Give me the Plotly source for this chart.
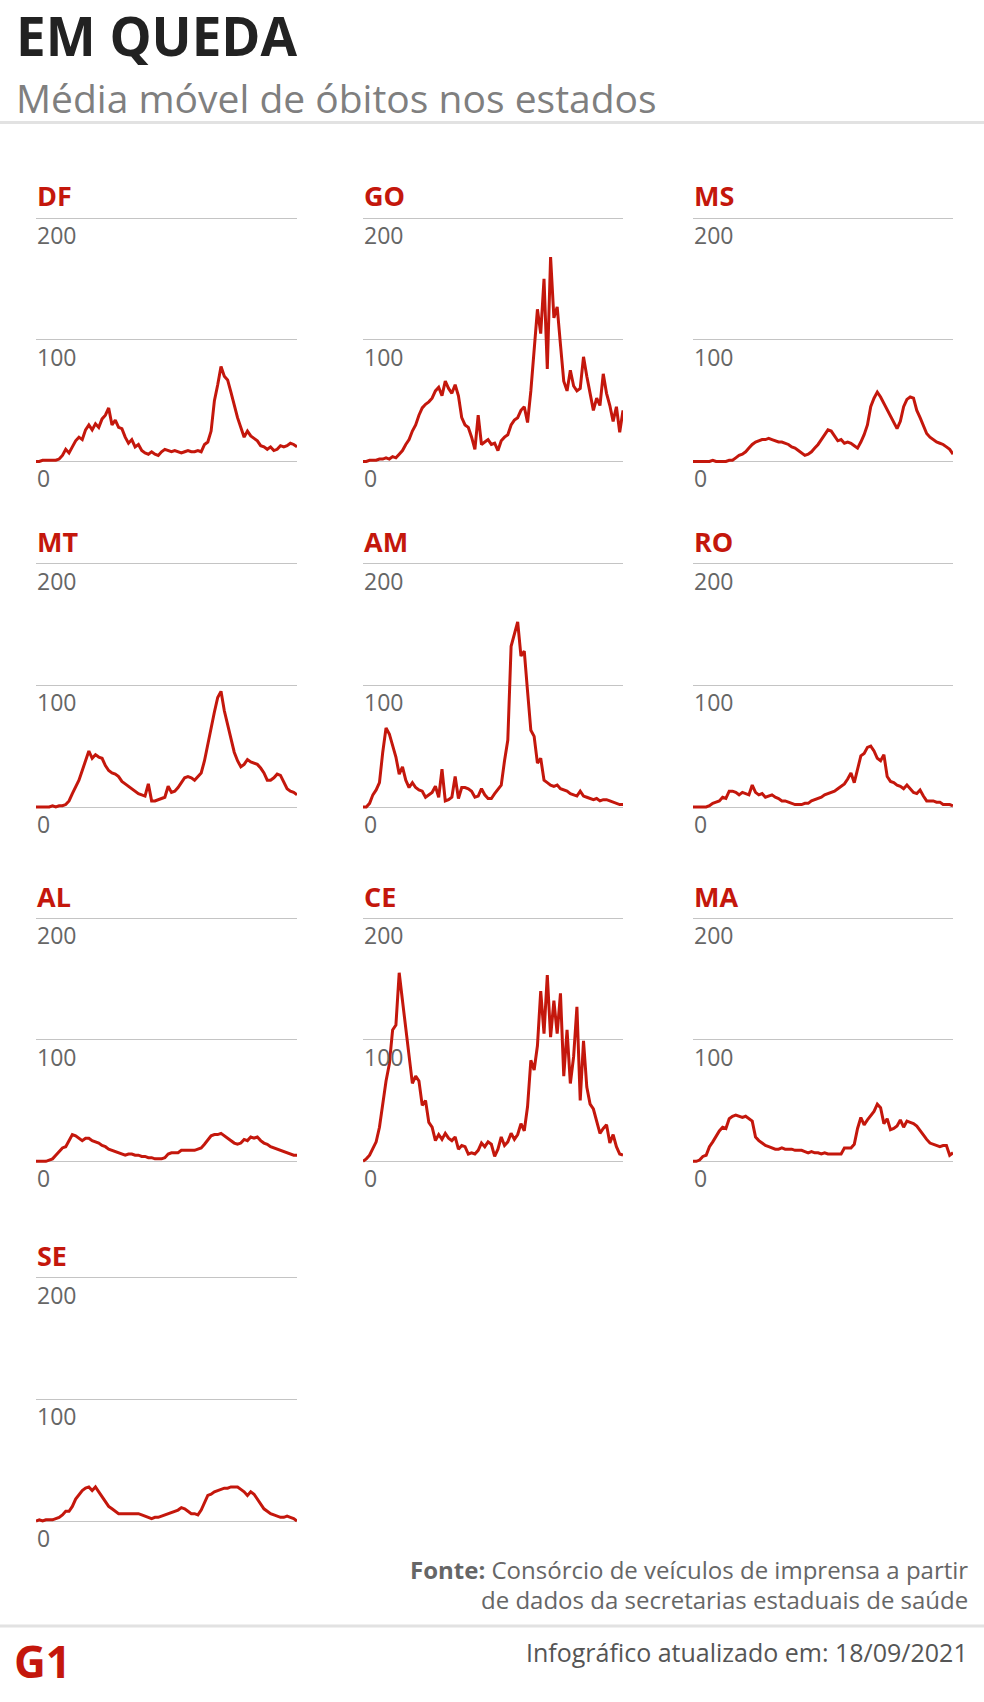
import pandas as pd
import plotly.graph_objects as go

# ---------------- data (média móvel de óbitos, leitura aproximada) ----------------
states = ["DF", "GO", "MS", "MT", "AM", "RO", "AL", "CE", "MA", "SE"]
start_date = "2020-03-15"
end_date = "2021-09-18"
tick_values = [0, 100, 200]

df_vals = [0, 0, 1, 1, 1, 1, 1, 2, 5, 10, 7, 12, 17, 20, 18, 26, 30, 26, 31, 28,
           35, 38, 44, 30, 34, 28, 27, 20, 15, 18, 12, 14, 9, 7, 6, 8, 6, 5, 8, 10,
           9, 8, 9, 8, 7, 8, 9, 8, 8, 9, 8, 14, 16, 25, 50, 63, 78, 70, 67, 57,
           46, 36, 28, 20, 25, 21, 19, 17, 13, 12, 10, 12, 9, 10, 13, 12, 13, 15, 14, 12]
go_vals = [0, 0, 1, 1, 1, 2, 2, 3, 2, 4, 3, 6, 9, 14, 18, 25, 30, 38, 44, 47,
           49, 52, 58, 61, 54, 66, 60, 56, 63, 54, 36, 30, 28, 20, 10, 38, 14, 16, 18, 14,
           15, 9, 17, 20, 22, 30, 34, 36, 42, 45, 32, 58, 92, 125, 105, 150, 76, 168, 118, 127,
           96, 66, 58, 75, 62, 58, 60, 86, 70, 57, 42, 52, 46, 72, 56, 46, 33, 45, 24, 42]
ms_vals = [0, 0, 0, 0, 0, 0, 1, 0, 0, 0, 0, 1, 1, 3, 5, 6, 8, 11, 14, 16,
           17, 18, 18, 19, 18, 17, 16, 16, 15, 14, 12, 11, 9, 7, 5, 6, 8, 11, 14, 18,
           22, 26, 25, 21, 17, 18, 15, 16, 15, 13, 11, 16, 22, 30, 45, 52, 57, 53, 48, 42,
           38, 32, 27, 33, 45, 51, 53, 52, 42, 36, 30, 23, 20, 18, 16, 15, 14, 12, 10, 6]
mt_vals = [0, 0, 0, 0, 0, 1, 0, 1, 1, 2, 5, 11, 17, 22, 30, 38, 46, 40, 43, 41,
           40, 34, 30, 28, 27, 25, 21, 19, 17, 15, 13, 11, 10, 9, 19, 5, 5, 6, 7, 8,
           17, 12, 13, 16, 20, 24, 25, 24, 22, 25, 28, 38, 52, 65, 78, 90, 95, 79, 68, 55,
           45, 38, 33, 35, 39, 37, 36, 35, 32, 28, 22, 22, 24, 27, 26, 21, 15, 13, 12, 10]
am_vals = [0, 0, 3, 10, 14, 20, 45, 65, 60, 50, 41, 27, 33, 22, 16, 20, 16, 14, 13, 8,
           10, 12, 17, 8, 31, 5, 6, 8, 25, 7, 16, 16, 15, 13, 8, 9, 15, 10, 7, 7,
           11, 15, 18, 38, 55, 132, 142, 152, 124, 128, 95, 63, 58, 36, 40, 22, 20, 18, 17, 18,
           15, 14, 13, 11, 10, 9, 13, 9, 8, 7, 6, 7, 5, 6, 6, 5, 4, 3, 2, 2]
ro_vals = [0, 0, 0, 0, 0, 1, 3, 4, 5, 8, 7, 13, 13, 12, 10, 12, 11, 10, 18, 12,
           10, 11, 8, 9, 10, 8, 7, 5, 5, 4, 3, 2, 2, 2, 3, 3, 5, 6, 7, 8,
           10, 11, 12, 13, 15, 17, 19, 23, 28, 20, 30, 42, 44, 49, 50, 46, 40, 38, 43, 25,
           21, 20, 18, 17, 15, 18, 15, 12, 11, 14, 9, 5, 5, 5, 4, 4, 2, 2, 2, 1]
al_vals = [0, 0, 0, 0, 1, 2, 5, 8, 11, 12, 17, 22, 21, 19, 17, 19, 19, 17, 16, 15,
           13, 12, 10, 9, 8, 7, 6, 5, 6, 6, 5, 5, 4, 4, 3, 3, 2, 2, 2, 3,
           6, 7, 7, 7, 9, 9, 9, 9, 9, 10, 11, 14, 18, 21, 22, 22, 23, 21, 19, 17,
           15, 14, 15, 18, 17, 20, 19, 20, 17, 15, 14, 12, 11, 10, 9, 8, 7, 6, 5, 5]
ce_vals = [0, 2, 5, 10, 16, 28, 48, 66, 80, 108, 112, 155, 132, 110, 84, 64, 70, 66, 46, 50,
           32, 28, 17, 22, 18, 23, 19, 17, 20, 10, 13, 12, 6, 7, 6, 9, 15, 12, 16, 14,
           4, 10, 20, 13, 16, 23, 18, 22, 31, 25, 45, 83, 75, 95, 140, 105, 153, 102, 132, 105,
           138, 70, 108, 64, 86, 127, 50, 99, 61, 47, 43, 33, 23, 27, 30, 15, 22, 12, 6, 5]
ma_vals = [0, 0, 1, 4, 5, 12, 16, 21, 25, 28, 27, 35, 37, 38, 37, 36, 37, 35, 33, 20,
           17, 15, 13, 12, 11, 10, 10, 11, 10, 10, 10, 9, 9, 9, 8, 7, 8, 7, 7, 6,
           7, 6, 6, 6, 6, 6, 11, 11, 11, 14, 27, 36, 30, 34, 38, 41, 47, 44, 31, 35,
           26, 27, 29, 34, 28, 33, 32, 31, 29, 25, 22, 18, 15, 14, 13, 12, 13, 13, 5, 7]
se_vals = [0, 1, 0, 1, 1, 1, 2, 3, 5, 8, 8, 12, 18, 22, 25, 27, 28, 25, 28, 24,
           20, 17, 12, 10, 8, 6, 6, 6, 6, 6, 6, 6, 5, 4, 3, 2, 3, 3, 4, 5,
           6, 7, 8, 9, 11, 10, 8, 6, 6, 5, 9, 15, 21, 22, 24, 25, 26, 27, 27, 28,
           28, 28, 26, 24, 21, 24, 22, 18, 13, 10, 8, 6, 5, 4, 3, 3, 4, 3, 2, 0]

series = {"DF": df_vals, "GO": go_vals, "MS": ms_vals, "MT": mt_vals, "AM": am_vals,
          "RO": ro_vals, "AL": al_vals, "CE": ce_vals, "MA": ma_vals, "SE": se_vals}

# ---------------- layout constants ----------------
W, H = 984, 1702
RED = "#c4170c"
GRID = "#c4c4c4"
FONT = "Open Sans"
cols_px = [(36, 297), (363, 623), (693, 953)]
rows_px = [(218, 461.5), (563.5, 807), (918, 1161.3), (1277.7, 1521)]
PAD = 4  # data units of padding below 0 / above 200

fig = go.Figure()
annotations = []
layout_axes = {}

for i, st in enumerate(states):
    r, c = divmod(i, 3)
    x0p, x1p = cols_px[c]
    y200p, y0p = rows_px[r]
    ppu = (y0p - y200p) / 200.0
    top_px = y200p - PAD * ppu
    bot_px = y0p + PAD * ppu
    n = i + 1
    suf = "" if n == 1 else str(n)
    vals = series[st]
    dates = pd.date_range(start_date, end_date, periods=len(vals))
    fig.add_trace(go.Scatter(x=dates, y=vals, mode="lines",
                             line=dict(color=RED, width=3),
                             xaxis="x" + suf, yaxis="y" + suf,
                             hoverinfo="x+y", showlegend=False))
    layout_axes["xaxis" + suf] = dict(domain=[x0p / W, x1p / W], anchor="y" + suf,
                                      range=[dates[0], dates[-1]], showgrid=False,
                                      showticklabels=False, zeroline=False, showline=False,
                                      ticks="", fixedrange=True)
    layout_axes["yaxis" + suf] = dict(domain=[1 - bot_px / H, 1 - top_px / H], anchor="x" + suf,
                                      range=[-PAD, 200 + PAD], tickvals=tick_values,
                                      showticklabels=False, showgrid=True, gridcolor=GRID,
                                      gridwidth=1.4, zeroline=False, showline=False,
                                      ticks="", fixedrange=True)
    for v in tick_values:
        annotations.append(dict(text=str(v), x=0, xref="x" + suf + " domain",
                                y=v, yref="y" + suf, xanchor="left", yanchor="middle",
                                yshift=-17, xshift=-1, showarrow=False,
                                font=dict(family=FONT, size=23, color="#666666")))
    annotations.append(dict(text="<b>" + st + "</b>", x=0, xref="x" + suf + " domain",
                            y=200, yref="y" + suf, xanchor="left", yanchor="middle",
                            yshift=22, xshift=-1, showarrow=False,
                            font=dict(family=FONT, size=27, color=RED)))

# header
annotations.append(dict(text="<b>EM QUEDA</b>", x=14 / W, y=1 - 36 / H, xref="paper", yref="paper",
                        xanchor="left", yanchor="middle", showarrow=False,
                        font=dict(family=FONT, size=53, color="#222222")))
annotations.append(dict(text="Média móvel de óbitos nos estados", x=14 / W, y=1 - 97 / H,
                        xref="paper", yref="paper", xanchor="left", yanchor="middle",
                        showarrow=False, font=dict(family=FONT, size=39, color="#7f7f7f")))
# footer
annotations.append(dict(text="<b>Fonte:</b> Consórcio de veículos de imprensa a partir",
                        x=970 / W, y=1 - 1569 / H, xref="paper", yref="paper",
                        xanchor="right", yanchor="middle", showarrow=False,
                        font=dict(family=FONT, size=24, color="#666666")))
annotations.append(dict(text="de dados da secretarias estaduais de saúde",
                        x=970 / W, y=1 - 1599 / H, xref="paper", yref="paper",
                        xanchor="right", yanchor="middle", showarrow=False,
                        font=dict(family=FONT, size=24, color="#666666")))
annotations.append(dict(text="Infográfico atualizado em: 18/09/2021",
                        x=970 / W, y=1 - 1652 / H, xref="paper", yref="paper",
                        xanchor="right", yanchor="middle", showarrow=False,
                        font=dict(family=FONT, size=25, color="#555555")))
annotations.append(dict(text="<b>G1</b>", x=12 / W, y=1 - 1661 / H, xref="paper", yref="paper",
                        xanchor="left", yanchor="middle", showarrow=False,
                        font=dict(family=FONT, size=44, color=RED)))

shapes = [
    dict(type="line", xref="paper", yref="paper", x0=0, x1=1,
         y0=1 - 122.5 / H, y1=1 - 122.5 / H, line=dict(color="#e2e2e2", width=3)),
    dict(type="line", xref="paper", yref="paper", x0=0, x1=1,
         y0=1 - 1626 / H, y1=1 - 1626 / H, line=dict(color="#e2e2e2", width=3)),
]

fig.update_layout(width=W, height=H, margin=dict(l=0, r=0, t=0, b=0),
                  paper_bgcolor="white", plot_bgcolor="white", showlegend=False,
                  annotations=annotations, shapes=shapes, **layout_axes)

fig.write_html("out.html", config={"displayModeBar": False},
               post_script="document.body.style.margin='0';")
